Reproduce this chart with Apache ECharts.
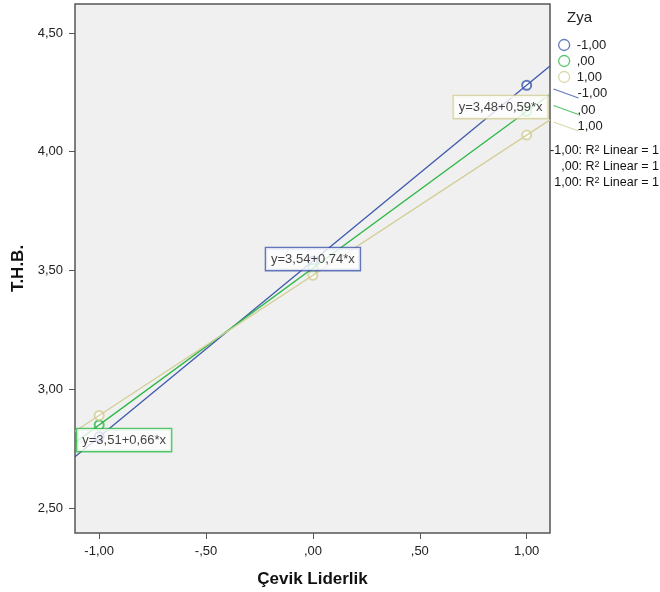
<!DOCTYPE html>
<html>
<head>
<meta charset="utf-8">
<script src="https://cdn.jsdelivr.net/npm/echarts@6/dist/echarts.min.js"></script>
<style>
  html, body { margin: 0; padding: 0; background: #fff; }
  #chart { width: 660px; height: 592px; }
</style>
</head>
<body>
<div id="chart"></div>
<script>
// data
let groups = ['-1,00', ',00', '1,00'];
let colors = ['#3E58AC', '#2EB848', '#D3CE97'];
let xValues = [-1, 0, 1];
let meansLow = [2.80, 3.54, 4.28];   // Zya = -1,00
let meansMid = [2.85, 3.51, 4.17];   // Zya = ,00
let meansHigh = [2.89, 3.48, 4.07];  // Zya = 1,00
let intercepts = [3.54, 3.51, 3.48];
let slopes = [0.74, 0.66, 0.59];
let fitLabels = ['y=3,54+0,74*x', 'y=3,51+0,66*x', 'y=3,48+0,59*x'];
let labelSpots = [[0, 3.548], [-0.883, 2.786], [0.878, 4.188]];
let xTicks = [-1, -0.5, 0, 0.5, 1];
let yTicks = [2.5, 3, 3.5, 4, 4.5];

let xMin = -1.113, xMax = 1.109;
let yMin = 2.395, yMax = 4.622;
let font = '"Liberation Sans", Arial, sans-serif';

function spssNum(v){
    let s = v.toFixed(2).replace('.', ',');
    return s.replace(/^(-?)0,/, '$1,');
}

let allMeans = [meansLow, meansMid, meansHigh];
let series = [];

// group means as open circles
groups.forEach((g, i) => {
    series.push({
        name: g,
        type: 'scatter',
        symbol: 'emptyCircle',
        symbolSize: 9,
        z: 2,
        itemStyle: { color: colors[i], borderColor: colors[i], borderWidth: 1.2 },
        data: xValues.map((x, k) => [x, allMeans[i][k]])
    });
});

// fit lines across the plot
groups.forEach((g, i) => {
    series.push({
        name: g,
        type: 'line',
        showSymbol: false,
        symbol: 'none',
        z: 3,
        lineStyle: { color: colors[i], width: 1.3 },
        data: [[xMin, intercepts[i] + slopes[i] * xMin], [xMax, intercepts[i] + slopes[i] * xMax]]
    });
});

// equation boxes
series.push({
    name: 'fits',
    type: 'scatter',
    symbolSize: 0,
    silent: true,
    z: 10,
    data: labelSpots.map((p, i) => ({
        value: p,
        label: {
            show: true,
            position: 'inside',
            formatter: fitLabels[i],
            color: '#111',
            fontFamily: font,
            fontSize: 13,
            backgroundColor: '#fff',
            borderColor: colors[i],
            borderWidth: 1.3,
            padding: [5, 5, 4, 5]
        }
    }))
});

let chart = echarts.init(document.getElementById('chart'));
chart.setOption({
    animation: false,
    textStyle: { fontFamily: font },
    grid: {
        left: 75, right: 110, top: 4, bottom: 59,
        outerBoundsMode: 'none',
        show: true,
        backgroundColor: '#F0F0F0',
        borderColor: '#555',
        borderWidth: 1.5
    },
    xAxis: {
        type: 'value',
        min: xMin, max: xMax,
        name: 'Çevik Liderlik',
        nameLocation: 'middle',
        nameGap: 38,
        nameTextStyle: { fontSize: 17, fontWeight: 'bold', color: '#111' },
        axisLine: { show: false, onZero: false },
        splitLine: { show: false },
        axisTick: { show: true, length: 6, customValues: xTicks, lineStyle: { color: '#555' } },
        axisLabel: { customValues: xTicks, formatter: spssNum, fontSize: 13, color: '#222', margin: 12 }
    },
    yAxis: {
        type: 'value',
        min: yMin, max: yMax,
        name: 'T.H.B.',
        nameLocation: 'middle',
        nameGap: 46,
        nameTextStyle: { fontSize: 17, fontWeight: 'bold', color: '#111' },
        axisLine: { show: false, onZero: false },
        splitLine: { show: false },
        axisTick: { show: true, length: 6, customValues: yTicks, lineStyle: { color: '#555' } },
        axisLabel: { customValues: yTicks, formatter: spssNum, fontSize: 13, color: '#222', margin: 12 }
    },
    legend: [{
        orient: 'vertical',
        left: 558, top: 38,
        padding: 0,
        itemWidth: 11, itemHeight: 11,
        itemGap: 2,
        textStyle: { fontSize: 13, lineHeight: 14, color: '#222', padding: [0, 0, 0, 2] },
        data: groups.map((g, i) => ({
            name: g,
            icon: 'circle',
            itemStyle: { color: 'transparent', borderColor: colors[i], borderWidth: 1.3 }
        }))
    }, {
        orient: 'vertical',
        left: 551, top: 86.5,
        padding: 0,
        itemWidth: 25, itemHeight: 9,
        itemGap: 2.5,
        textStyle: { fontSize: 13, lineHeight: 14, color: '#222', padding: [0, 0, 0, -6] },
        data: groups.map((g, i) => ({
            name: g,
            icon: 'path://M0,0L25,9',
            itemStyle: { color: 'none', borderColor: colors[i], borderWidth: 1.3 }
        }))
    }],
    graphic: [{
        type: 'text', left: 567, top: 10,
        style: { text: 'Zya', fontSize: 15, fill: '#222', fontFamily: font }
    }].concat(groups.map((g, i) => ({
        type: 'text', right: 1, top: 144 + i * 16,
        style: {
            text: g + ': R{s|2} Linear = 1',
            fontSize: 12.5, fill: '#111', fontFamily: font,
            rich: { s: { fontSize: 9, verticalAlign: 'top', padding: [0, 0, 5, 0], fill: '#111' } }
        }
    }))),
    series: series
});
</script>
</body>
</html>
